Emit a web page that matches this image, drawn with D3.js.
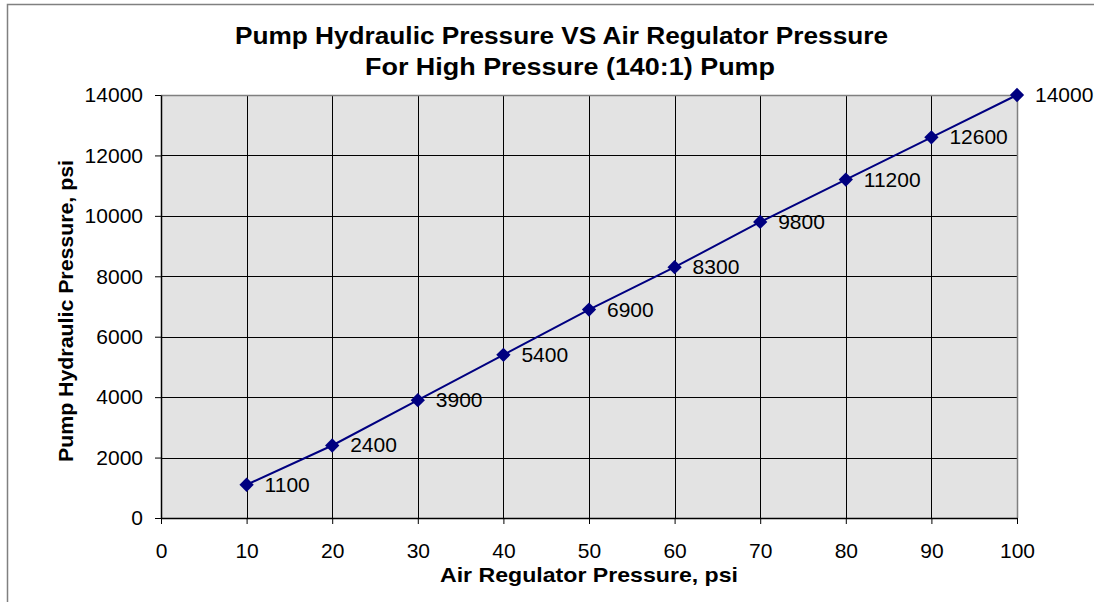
<!DOCTYPE html>
<html>
<head>
<meta charset="utf-8">
<script src="https://cdn.jsdelivr.net/npm/d3@7"></script>
<style>
  html, body { margin: 0; padding: 0; background: #fff; }
  svg { display: block; font-family: "Liberation Sans", Arial, sans-serif; }
</style>
</head>
<body>
<div id="chart"></div>
<script>
const airPressure = [10, 20, 30, 40, 50, 60, 70, 80, 90, 100];
const hydraulicPressure = [1100, 2400, 3900, 5400, 6900, 8300, 9800, 11200, 12600, 14000];
const xTicks = [0, 10, 20, 30, 40, 50, 60, 70, 80, 90, 100];
const yTicks = [0, 2000, 4000, 6000, 8000, 10000, 12000, 14000];

const W = 1094, H = 602;
const plot = { left: 161, right: 1017, top: 95, bottom: 518 };
const lineColor = "#000080";
const fontSize = 21;

const svg = d3.select("#chart").append("svg")
  .attr("width", W)
  .attr("height", H);

// outer chart border
svg.append("rect")
  .attr("x", 7.5).attr("y", 4.5)
  .attr("width", W + 10).attr("height", H + 10)
  .attr("fill", "#fff")
  .attr("stroke", "#808080")
  .attr("stroke-width", 1.5);

const x = d3.scaleLinear().domain([0, 100]).range([plot.left, plot.right]);
const y = d3.scaleLinear().domain([0, 14000]).range([plot.bottom, plot.top]);

// plot background
svg.append("rect")
  .attr("x", plot.left).attr("y", plot.top)
  .attr("width", plot.right - plot.left)
  .attr("height", plot.bottom - plot.top)
  .attr("fill", "#e3e3e3");

// grid lines
svg.append("g")
  .selectAll("line")
  .data(xTicks.slice(1, -1))
  .join("line")
    .attr("x1", d => Math.round(x(d)) + 0.5).attr("x2", d => Math.round(x(d)) + 0.5)
    .attr("y1", plot.top).attr("y2", plot.bottom)
    .attr("stroke", "#000").attr("stroke-width", 1);

svg.append("g")
  .selectAll("line")
  .data(yTicks.slice(1, -1))
  .join("line")
    .attr("x1", plot.left).attr("x2", plot.right)
    .attr("y1", d => Math.round(y(d)) + 0.5).attr("y2", d => Math.round(y(d)) + 0.5)
    .attr("stroke", "#000").attr("stroke-width", 1);

// top and right border of plot area (gray)
svg.append("path")
  .attr("d", `M${plot.left},${plot.top + 0.5}H${plot.right + 0.5}V${plot.bottom}`)
  .attr("fill", "none")
  .attr("stroke", "#808080")
  .attr("stroke-width", 1.5);

// axes
svg.append("g")
  .attr("transform", `translate(0,${plot.bottom})`)
  .call(d3.axisBottom(x).tickValues(xTicks).tickSize(6).tickPadding(19).tickSizeOuter(0))
  .call(ax => ax.select(".domain").attr("stroke", "#000").attr("stroke-width", 1.5))
  .call(ax => ax.selectAll(".tick line").attr("stroke", "#000"))
  .call(ax => ax.selectAll("text")
    .attr("font-size", fontSize)
    .attr("font-family", "Liberation Sans, Arial, sans-serif")
    .attr("fill", "#000"));

svg.append("g")
  .attr("transform", `translate(${plot.left},0)`)
  .call(d3.axisLeft(y).tickValues(yTicks).tickSize(6).tickPadding(12).tickSizeOuter(0)
    .tickFormat(d3.format("d")))
  .call(ax => ax.select(".domain").attr("stroke", "#000").attr("stroke-width", 1.5))
  .call(ax => ax.selectAll(".tick line").attr("stroke", "#000"))
  .call(ax => ax.selectAll("text")
    .attr("font-size", fontSize)
    .attr("font-family", "Liberation Sans, Arial, sans-serif")
    .attr("fill", "#000"));

// series
const rows = airPressure.map((a, i) => ({ air: a, hyd: hydraulicPressure[i] }));

svg.append("path")
  .datum(rows)
  .attr("fill", "none")
  .attr("stroke", lineColor)
  .attr("stroke-width", 2)
  .attr("d", d3.line().x(d => x(d.air)).y(d => y(d.hyd)));

svg.append("g")
  .selectAll("path")
  .data(rows)
  .join("path")
    .attr("transform", d => `translate(${x(d.air)},${y(d.hyd)})`)
    .attr("d", d3.symbol(d3.symbolDiamond2, 130)())
    .attr("fill", lineColor);

svg.append("g")
  .selectAll("text")
  .data(rows)
  .join("text")
    .attr("x", d => x(d.air) + 18)
    .attr("y", d => y(d.hyd) + 7)
    .attr("font-size", fontSize)
    .attr("fill", "#000")
    .text(d => d.hyd);

// titles
svg.append("text")
  .attr("x", 235).attr("y", 44)
  .attr("font-size", 23).attr("font-weight", "bold")
  .attr("textLength", 653).attr("lengthAdjust", "spacingAndGlyphs")
  .text("Pump Hydraulic Pressure VS Air Regulator Pressure");

svg.append("text")
  .attr("x", 365).attr("y", 75)
  .attr("font-size", 23).attr("font-weight", "bold")
  .attr("textLength", 410).attr("lengthAdjust", "spacingAndGlyphs")
  .text("For High Pressure (140:1) Pump");

svg.append("text")
  .attr("x", 440).attr("y", 582)
  .attr("font-size", 21).attr("font-weight", "bold")
  .attr("textLength", 298).attr("lengthAdjust", "spacingAndGlyphs")
  .text("Air Regulator Pressure, psi");

svg.append("text")
  .attr("transform", `translate(73,462) rotate(-90)`)
  .attr("font-size", 21).attr("font-weight", "bold")
  .attr("textLength", 302).attr("lengthAdjust", "spacingAndGlyphs")
  .text("Pump Hydraulic Pressure, psi");
</script>
</body>
</html>
